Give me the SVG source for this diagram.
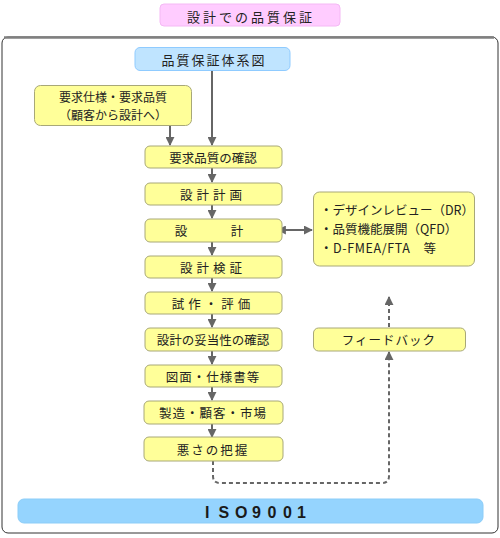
<svg xmlns="http://www.w3.org/2000/svg" width="500" height="538" viewBox="0 0 500 538">
<style>
text{font-family:"Noto Sans CJK JP","Noto Sans CJK SC",sans-serif;font-size:12.5px;fill:#222;text-anchor:middle;dominant-baseline:central}
.box{fill:#FFFF99;stroke:#A8A878;stroke-width:1}
.conn{stroke:#666;stroke-width:2;fill:none}
.dash{stroke:#666;stroke-width:2;fill:none;stroke-dasharray:4 3}
</style>
<defs>
<marker id="ah" viewBox="0 0 10 10" refX="9" refY="5" markerWidth="4.5" markerHeight="4.5" orient="auto" markerUnits="strokeWidth">
<path d="M0,0 L10,5 L0,10 Z" fill="#666"/>
</marker>
<marker id="ahs" viewBox="0 0 10 10" refX="1" refY="5" markerWidth="4.5" markerHeight="4.5" orient="auto-start-reverse" markerUnits="strokeWidth">
<path d="M0,0 L10,5 L0,10 Z" fill="#666"/>
</marker>
</defs>
<rect width="500" height="538" fill="#fff"/>
<g id="title">
<rect x="160" y="4" width="180" height="22" rx="4" fill="#FFCCFF" stroke="#F4B8F4"/>
<text x="251" y="16" style="font-size:13px;letter-spacing:3px">設計での品質保証</text>
</g>
<g id="frame">
<rect x="2" y="37" width="496" height="496" rx="6" fill="none" stroke="#333" stroke-width="1"/>
<path d="M4,37.5 H494" stroke="#808080" stroke-width="2.5"/>
</g>
<g id="connectors">
<line class="conn" x1="212" y1="71" x2="212" y2="145" marker-end="url(#ah)"/>
<line class="conn" x1="170" y1="125" x2="170" y2="145" marker-end="url(#ah)"/>
<line class="conn" x1="212" y1="168" x2="212" y2="182" marker-end="url(#ah)"/>
<line class="conn" x1="212" y1="205" x2="212" y2="218" marker-end="url(#ah)"/>
<line class="conn" x1="212" y1="242" x2="212" y2="255" marker-end="url(#ah)"/>
<line class="conn" x1="212" y1="278" x2="212" y2="291" marker-end="url(#ah)"/>
<line class="conn" x1="212" y1="314" x2="212" y2="327" marker-end="url(#ah)"/>
<line class="conn" x1="212" y1="351" x2="212" y2="364" marker-end="url(#ah)"/>
<line class="conn" x1="212" y1="387" x2="212" y2="400" marker-end="url(#ah)"/>
<line class="conn" x1="212" y1="424" x2="212" y2="437" marker-end="url(#ah)"/>
<line class="conn" x1="285" y1="230" x2="312" y2="230" marker-start="url(#ahs)" marker-end="url(#ah)"/>
<path class="dash" d="M213,461 V476 Q213,483 220,483 H382 Q389,483 389,476 V352" marker-end="url(#ah)"/>
<line class="dash" x1="389" y1="327" x2="389" y2="297" marker-end="url(#ah)"/>
</g>
<g id="n_system">
<rect x="135" y="47.5" width="155" height="23" rx="5" fill="#BFE4FF" stroke="#8FCBFF"/>
<text x="214" y="59" style="font-size:13px;letter-spacing:2px">品質保証体系図</text>
</g>
<g id="n_req">
<rect class="box" x="34.5" y="85.5" width="157" height="40" rx="6"/>
<text x="113" y="96.5" style="font-size:12px">要求仕様・要求品質</text>
<text x="113" y="114.5" style="font-size:12px">（顧客から設計へ）</text>
</g>
<g id="n1"><rect class="box" x="145" y="146" width="137" height="22" rx="5"/><text x="213" y="157">要求品質の確認</text></g>
<g id="n2"><rect class="box" x="145" y="183" width="137" height="22" rx="5"/><text x="213" y="194" style="letter-spacing:4px">設計計画</text></g>
<g id="n3"><rect class="box" x="145" y="219" width="137" height="23" rx="5"/><text x="181" y="230">設</text><text x="237" y="230">計</text></g>
<g id="n4"><rect class="box" x="145" y="256" width="137" height="22" rx="5"/><text x="213" y="267" style="letter-spacing:4px">設計検証</text></g>
<g id="n5"><rect class="box" x="145" y="292" width="137" height="22" rx="5"/><text x="213" y="303" style="letter-spacing:4px">試作・評価</text></g>
<g id="n6"><rect class="box" x="145" y="328" width="137" height="23" rx="5"/><text x="213" y="339.5">設計の妥当性の確認</text></g>
<g id="n7"><rect class="box" x="145" y="365" width="137" height="22" rx="5"/><text x="213" y="376" style="letter-spacing:1px">図面・仕様書等</text></g>
<g id="n8"><rect class="box" x="144" y="401" width="139" height="23" rx="5"/><text x="213" y="412.5" style="letter-spacing:1px">製造・顧客・市場</text></g>
<g id="n9"><rect class="box" x="144" y="437" width="139" height="24" rx="5"/><text x="213" y="449" style="letter-spacing:2px">悪さの把握</text></g>
<g id="n_tools">
<rect class="box" x="313.5" y="192" width="161" height="74" rx="6"/>
<text x="320" y="209" style="text-anchor:start">・デザインレビュー（DR）</text>
<text x="320" y="228" style="text-anchor:start">・品質機能展開（QFD）</text>
<text x="320" y="247" style="text-anchor:start;letter-spacing:0.6px">・D-FMEA/FTA　等</text>
</g>
<g id="n_feedback">
<rect class="box" x="313.5" y="328" width="152" height="23" rx="5"/>
<text x="389" y="339.5" style="letter-spacing:1px">フィードバック</text>
</g>
<g id="n_iso">
<rect x="18" y="499" width="465" height="24" rx="6" fill="#95D4FE" stroke="#8CCDF8"/>
<text y="512" style="font-family:'Liberation Sans',Arial,sans-serif;font-size:16px;font-weight:bold;text-anchor:start;fill:#1a1a1a"><tspan x="205">I</tspan><tspan x="218.5">S</tspan><tspan x="235">O</tspan><tspan x="252">9</tspan><tspan x="267.5">0</tspan><tspan x="283">0</tspan><tspan x="297">1</tspan></text>
</g>
</svg>
